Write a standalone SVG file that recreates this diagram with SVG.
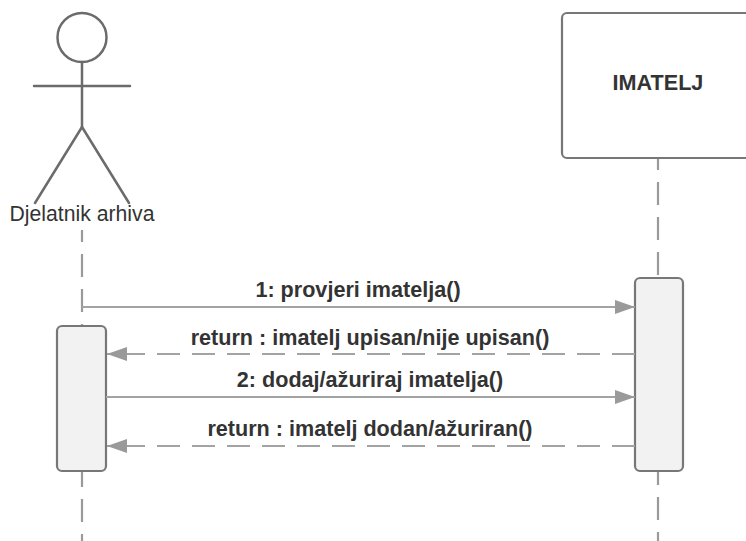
<svg xmlns="http://www.w3.org/2000/svg" width="746" height="541" viewBox="0 0 746 541">
<style>
.actor{fill:none;stroke:#6b6b6b;stroke-width:2.5;stroke-linecap:round}
.life{fill:none;stroke:#9a9a9a;stroke-width:2.2;stroke-dasharray:23 12;stroke-dashoffset:11}
.act{fill:#f2f2f2;stroke:#777;stroke-width:2.2}
.msg{fill:none;stroke:#a3a3a3;stroke-width:2.2}
.ret{fill:none;stroke:#a3a3a3;stroke-width:2.2;stroke-dasharray:23 12}
.lbl{font-family:"Liberation Sans",Arial,sans-serif;font-size:21.6px;font-weight:bold;fill:#333;text-anchor:middle}
.name{font-family:"Liberation Sans",Arial,sans-serif;font-size:21.2px;fill:#333;text-anchor:middle}
</style>
<defs>
<marker id="ah" markerUnits="userSpaceOnUse" markerWidth="20" markerHeight="14" refX="20" refY="7" orient="auto">
<path d="M0,0 L20,7 L0,14 z" fill="#9a9a9a"/>
</marker>
</defs>
<rect width="746" height="541" fill="#fff"/>
<g id="lifelines">
<line class="life" x1="82" y1="230" x2="82" y2="541"/>
<line class="life" x1="658" y1="158" x2="658" y2="541"/>
</g>
<g id="actor">
<circle class="actor" cx="82" cy="37.5" r="24.5"/>
<line class="actor" x1="82" y1="62" x2="82" y2="127"/>
<line class="actor" x1="34" y1="86" x2="130" y2="86"/>
<line class="actor" x1="82" y1="127" x2="35" y2="203"/>
<line class="actor" x1="82" y1="127" x2="129" y2="203"/>
<text class="name" x="82" y="221">Djelatnik arhiva</text>
</g>
<g id="imatelj">
<rect x="562" y="13" width="200" height="145" rx="5" fill="#fff" stroke="#777" stroke-width="2.2"/>
<text class="lbl" x="658" y="90">IMATELJ</text>
</g>
<g id="activation-actor">
<rect class="act" x="57" y="326" width="49" height="145" rx="5"/>
</g>
<g id="activation-imatelj">
<rect class="act" x="635" y="278" width="48" height="193" rx="5"/>
</g>
<g id="connectors">
<line class="msg" x1="82" y1="307" x2="635" y2="307" marker-end="url(#ah)"/>
<text class="lbl" x="358" y="297">1: provjeri imatelja()</text>
<line class="ret" x1="635" y1="354" x2="107" y2="354" marker-end="url(#ah)"/>
<text class="lbl" x="370" y="345">return : imatelj upisan/nije upisan()</text>
<line class="msg" x1="106" y1="397" x2="635" y2="397" marker-end="url(#ah)"/>
<text class="lbl" x="370" y="387">2: dodaj/ažuriraj imatelja()</text>
<line class="ret" x1="635" y1="446" x2="107" y2="446" marker-end="url(#ah)"/>
<text class="lbl" x="370" y="436">return : imatelj dodan/ažuriran()</text>
</g>
</svg>
